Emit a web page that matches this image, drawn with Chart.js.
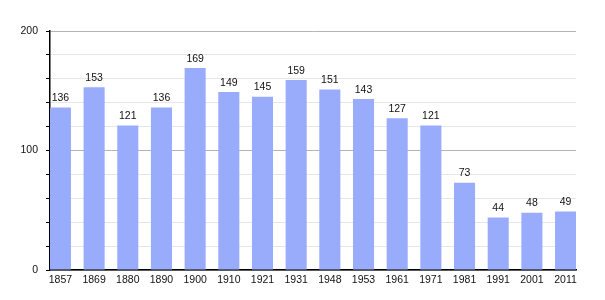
<!DOCTYPE html>
<html>
<head>
<meta charset="utf-8">
<script src="https://cdn.jsdelivr.net/npm/chart.js@4"></script>
<style>
  html, body { margin: 0; padding: 0; background: #fff; }
  #wrap { width: 605px; height: 300px; }
</style>
</head>
<body>
<div id="wrap"><canvas id="popChart" width="605" height="300"></canvas></div>
<script>
const years = ["1857", "1869", "1880", "1890", "1900", "1910", "1921", "1931", "1948", "1953", "1961", "1971", "1981", "1991", "2001", "2011"];
const population = [136, 153, 121, 136, 169, 149, 145, 159, 151, 143, 127, 121, 73, 44, 48, 49];
const yLabels = [0, 100, 200];

const points = population.map(function (v, i) { return { x: i, y: v }; });
const fontFamily = "'Liberation Sans', Arial, sans-serif";

const valueLabels = {
    id: "valueLabels",
    afterDatasetsDraw: function (chart) {
        const ctx = chart.ctx;
        const meta = chart.getDatasetMeta(0);
        ctx.save();
        ctx.font = "10.5px " + fontFamily;
        ctx.fillStyle = "#111";
        ctx.textAlign = "center";
        ctx.textBaseline = "bottom";
        meta.data.forEach(function (bar, i) {
            ctx.fillText(String(population[i]), bar.x, bar.y - 4);
        });
        ctx.restore();
    }
};

document.addEventListener("DOMContentLoaded", function () {
    const ctx = document.getElementById("popChart").getContext("2d");
    new Chart(ctx, {
        type: "bar",
        data: {
            datasets: [{
                data: points,
                backgroundColor: "#99acfc",
                borderWidth: 0,
                barPercentage: 0.625,
                categoryPercentage: 1
            }]
        },
        options: {
            responsive: false,
            animation: false,
            layout: { padding: { top: 31, right: 29, left: 0, bottom: 0 } },
            plugins: { legend: { display: false }, tooltip: { enabled: false } },
            scales: {
                x: {
                    type: "linear",
                    offset: false,
                    min: -0.31,
                    max: 15.31,
                    afterFit: function (scale) { scale.height = 30; },
                    afterBuildTicks: function (scale) {
                        scale.ticks = years.map(function (y, i) { return { value: i }; });
                    },
                    grid: { display: false },
                    border: { display: true, color: "#000", width: 1.5 },
                    ticks: {
                        autoSkip: false,
                        maxRotation: 0,
                        padding: -4,
                        color: "#111",
                        font: { family: fontFamily, size: 10.5 },
                        callback: function (v) {
                            return years[v] || "";
                        }
                    }
                },
                y: {
                    min: 0,
                    max: 200,
                    afterFit: function (scale) { scale.width = 50; },
                    border: { display: true, color: "#000", width: 1.5 },
                    grid: {
                        color: function (c) {
                            return yLabels.indexOf(c.tick.value) >= 0 ? "#b4b4b4" : "#e6e6e6";
                        },
                        tickColor: "#000",
                        tickLength: 4
                    },
                    ticks: {
                        stepSize: 20,
                        padding: 8,
                        color: "#111",
                        font: { family: fontFamily, size: 10.5 },
                        callback: function (v) {
                            return yLabels.indexOf(v) >= 0 ? String(v) : "";
                        }
                    }
                }
            }
        },
        plugins: [valueLabels]
    });
});
</script>
</body>
</html>
